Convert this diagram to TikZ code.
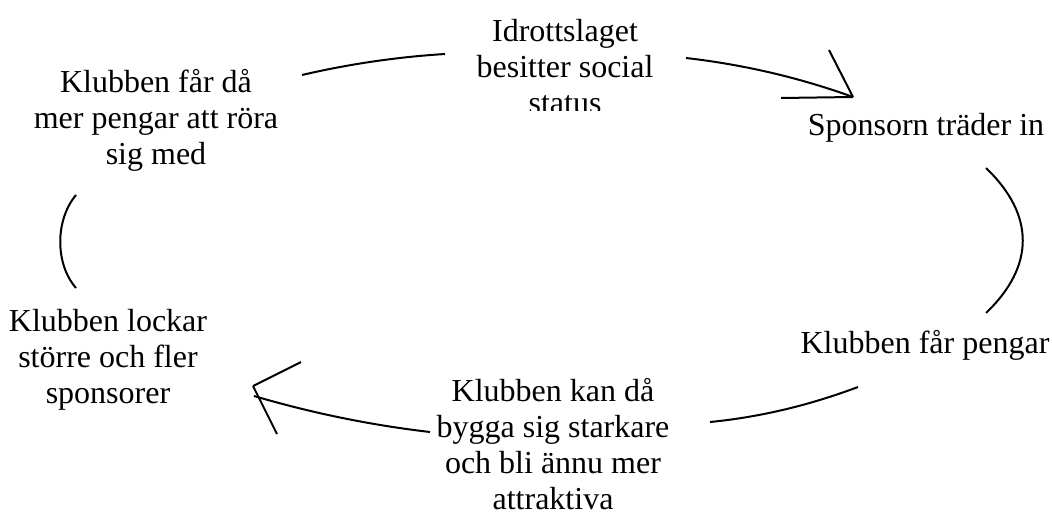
\documentclass[tikz,border=0pt]{standalone}
\usepackage{fontspec}
\setmainfont{Liberation Serif}

\begin{document}
\begin{tikzpicture}[x=0.5pt,y=-0.5pt,line width=1pt,
        txt/.style={anchor=base,align=center,inner sep=0pt,font=\fontsize{16}{18}\selectfont}]
                        \useasboundingbox (0,0) rectangle (1052,513);

                        \begin{scope}
                            \clip (400,0) rectangle (720,111);
                            \node[txt] (status) at (565,114) {Idrottslaget\\besitter social\\status};
                        \end{scope}
                        \node[txt] (sponsor) at (926,136) {Sponsorn träder in};
                        \node[txt] (pengar) at (925,353) {Klubben får pengar};
                        \node[txt] (starkare) at (553,509) {Klubben kan då\\bygga sig starkare\\och bli ännu mer\\attraktiva};
                        \node[txt] (lockar) at (108,403) {Klubben lockar\\större och fler\\sponsorer};
                        \node[txt] (rora) at (156,165) {Klubben får då\\mer pengar att röra\\sig med};

                        \coordinate (tl1) at (302,75);  \coordinate (tl2) at (445,54);
                        \coordinate (tr1) at (686,58);  \coordinate (tr2) at (853,97);
                        \coordinate (r1) at (986,168);  \coordinate (r2) at (986,313);
                        \coordinate (br1) at (858,387); \coordinate (br2) at (710,422);
                        \coordinate (bl1) at (430,432); \coordinate (bl2) at (254,396);
                        \coordinate (l1) at (76,288);   \coordinate (l2) at (76,195);
                        \coordinate (bltip) at (253,386);

                        \draw (tl1) .. controls +(47,-11) and +(-48,3) .. (tl2);
                        \draw (tr1) .. controls +(57,6.5) and +(-54,-19.5) .. (tr2);
                        \draw (tr2) -- (829,50) (tr2) -- (781,98);
                        \draw (r1) .. controls +(49,47) and +(49,-47) .. (r2);
                        \draw (br1) .. controls +(-48,18) and +(51,-5) .. (br2);
                        \draw (bl1) .. controls +(-60,-7) and +(58,17) .. (bl2);
                        \draw (bltip) -- (301,362) (bltip) -- (277,434);
                        \draw (l1) .. controls +(-21,-24) and +(-21,25) .. (l2);
                    \end{tikzpicture}
\end{document}
